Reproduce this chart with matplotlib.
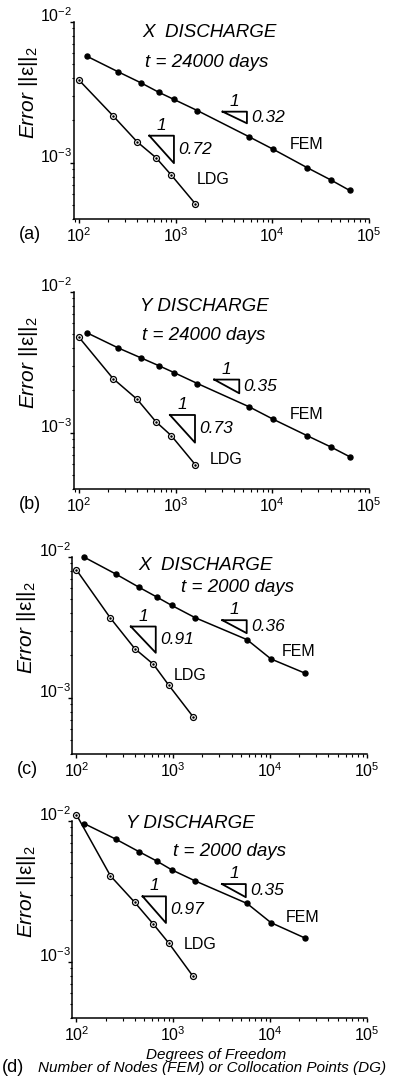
import numpy as np
import matplotlib.pyplot as plt
from matplotlib.ticker import LogLocator, NullFormatter

plt.rcParams['font.family'] = 'Liberation Sans'
plt.rcParams['mathtext.fontset'] = 'custom'
plt.rcParams['mathtext.rm'] = 'Liberation Sans'
plt.rcParams['mathtext.it'] = 'Liberation Sans:italic'
plt.rcParams['axes.unicode_minus'] = False

# grados de libertad
fem_x = [121, 256, 441, 676, 961, 1681, 5776, 10201, 22801, 40401, 63001]
ldg_x = [100, 225, 400, 625, 900, 1600]

# errores
fem_a = [5.71e-3, 4.42e-3, 3.69e-3, 3.16e-3, 2.82e-3, 2.35e-3, 1.53e-3, 1.25e-3, 9.27e-4, 7.56e-4, 6.38e-4]
ldg_a = [3.87e-3, 2.16e-3, 1.41e-3, 1.09e-3, 8.21e-4, 5.12e-4]
fem_b = [5.13e-3, 4.00e-3, 3.40e-3, 2.99e-3, 2.68e-3, 2.24e-3, 1.53e-3, 1.25e-3, 9.57e-4, 7.94e-4, 6.78e-4]
ldg_b = [4.77e-3, 2.43e-3, 1.73e-3, 1.20e-3, 9.57e-4, 5.94e-4]
fem_c = [9.95e-3, 7.56e-3, 6.11e-3, 5.20e-3, 4.54e-3, 3.71e-3, 2.59e-3, 1.89e-3, 1.50e-3]
ldg_c = [8.11e-3, 3.68e-3, 2.24e-3, 1.73e-3, 1.23e-3, 7.36e-4]
fem_d = [9.57e-3, 7.43e-3, 6.07e-3, 5.20e-3, 4.51e-3, 3.76e-3, 2.60e-3, 1.90e-3, 1.48e-3]
ldg_d = [1.11e-2, 4.08e-3, 2.65e-3, 1.85e-3, 1.36e-3, 7.91e-4]

# triangulos de pendiente: (x0, x1, y0, y1, etiqueta)
tri_ldg = [(534, 960, 1.56e-3, 9.96e-4, '0.72'),
           (873, 1585, 1.34e-3, 8.53e-4, '0.73'),
           (365, 660, 3.21e-3, 2.09e-3, '0.91'),
           (483, 841, 2.92e-3, 1.89e-3, '0.97')]
tri_fem = [(3060, 5460, 2.31e-3, 1.91e-3, '0.32'),
           (2505, 4550, 2.39e-3, 1.91e-3, '0.35'),
           (3210, 5730, 3.56e-3, 2.88e-3, '0.36'),
           (3180, 5610, 3.57e-3, 2.88e-3, '0.35')]

titles = ['X  DISCHARGE', 'Y DISCHARGE', 'X  DISCHARGE', 'Y DISCHARGE']
times = ['t = 24000 days', 't = 24000 days', 't = 2000 days', 't = 2000 days']
letters = ['(a)', '(b)', '(c)', None]

rects = [(0.185, 0.7978, 0.7375, 0.1819),
         (0.185, 0.5485, 0.7375, 0.1819),
         (0.181, 0.3038, 0.7365, 0.1819),
         (0.181, 0.0600, 0.7365, 0.1819)]
xlims = [(88.8, 1e5), (88.8, 1e5), (91, 1e5), (91, 1e5)]
title_pos = [((0.461, 0.949), (0.451, 0.792)),
             ((0.443, 0.925), (0.438, 0.777)),
             ((0.453, 0.959), (0.562, 0.843)),
             ((0.399, 0.985), (0.532, 0.847))]
fem_pos = [(0.790, 0.376), (0.789, 0.376), (0.769, 0.518), (0.781, 0.51)]
ldg_pos = [(0.471, 0.198), (0.515, 0.152), (0.40, 0.396), (0.435, 0.372)]

fem_all = [fem_a, fem_b, fem_c, fem_d]
ldg_all = [ldg_a, ldg_b, ldg_c, ldg_d]

fig = plt.figure(figsize=(4, 10.83), dpi=100)

for k in range(4):
    ax = fig.add_axes(rects[k])
    fy = fem_all[k]
    ly = ldg_all[k]
    ax.plot(fem_x[:len(fy)], fy, '-o', color='k', lw=1.1, ms=3.6, clip_on=False)
    ax.plot(ldg_x, ly, '-o', color='k', lw=1.1, ms=4.3, mfc='white', mew=0.9, clip_on=False)
    ax.plot(ldg_x, ly, '.', color='k', ms=1.6, clip_on=False)

    for tri in (tri_ldg[k], tri_fem[k]):
        x0, x1, y0, y1, lab = tri
        ax.plot([x0, x1, x1, x0], [y0, y0, y1, y0], color='k', lw=1.3)
        ax.annotate('1', xy=(np.sqrt(x0 * x1), y0), xytext=(0, 7.5), textcoords='offset points',
                    ha='center', va='center', style='italic', fontsize=12.5)
        ax.annotate(lab, xy=(x1, np.sqrt(y0 * y1)), xytext=(3, 0), textcoords='offset points',
                    ha='left', va='center', style='italic', fontsize=12.5)

    ax.set_xscale('log')
    ax.set_yscale('log')
    ax.set_xlim(*xlims[k])
    ax.set_ylim(4e-4, 1e-2)
    ax.xaxis.set_major_locator(LogLocator(base=10, numticks=10))
    ax.xaxis.set_minor_locator(LogLocator(base=10, subs=np.arange(2, 10), numticks=20))
    ax.yaxis.set_minor_locator(LogLocator(base=10, subs=np.arange(2, 10), numticks=20))
    ax.xaxis.set_minor_formatter(NullFormatter())
    ax.yaxis.set_minor_formatter(NullFormatter())
    ax.spines['top'].set_visible(False)
    ax.spines['right'].set_visible(False)
    ax.spines['left'].set_linewidth(1.1)
    ax.spines['bottom'].set_linewidth(1.1)
    ax.tick_params(which='major', direction='out', length=3, width=1, labelsize=11.5)
    ax.tick_params(which='minor', direction='out', length=1.8, width=0.8)
    ax.tick_params(axis='x', which='major', pad=2)
    ax.tick_params(axis='y', which='major', pad=-2)
    for t in ax.get_yticklabels():
        t.set_verticalalignment('baseline')

    ax.text(*title_pos[k][0], titles[k], transform=ax.transAxes, ha='center', va='center',
            style='italic', fontsize=13.5)
    ax.text(*title_pos[k][1], times[k], transform=ax.transAxes, ha='center', va='center',
            style='italic', fontsize=13.5)
    ax.text(*fem_pos[k], 'FEM', transform=ax.transAxes, ha='center', va='center', fontsize=11.5)
    ax.text(*ldg_pos[k], 'LDG', transform=ax.transAxes, ha='center', va='center', fontsize=11.5)
    ax.text(-0.155, 0.64, r'$\mathit{Error}\ ||\mathrm{ε}||_2$', transform=ax.transAxes,
            rotation=90, ha='center', va='center', fontsize=15)
    if letters[k]:
        ax.text(-0.151, -0.081, letters[k], transform=ax.transAxes, ha='center', va='center',
                fontsize=13)

fig.text(216.5 / 400, 1 - 1055 / 1083, 'Degrees of Freedom', ha='center', va='center',
         style='italic', fontsize=11)
fig.text(2 / 400, 1 - 1068 / 1083, '(d)', ha='left', va='center', fontsize=13)
fig.text(38 / 400, 1 - 1068 / 1083, 'Number of Nodes (FEM) or Collocation Points (DG)',
         ha='left', va='center', style='italic', fontsize=11)

fig.savefig('out.png', dpi=100)
